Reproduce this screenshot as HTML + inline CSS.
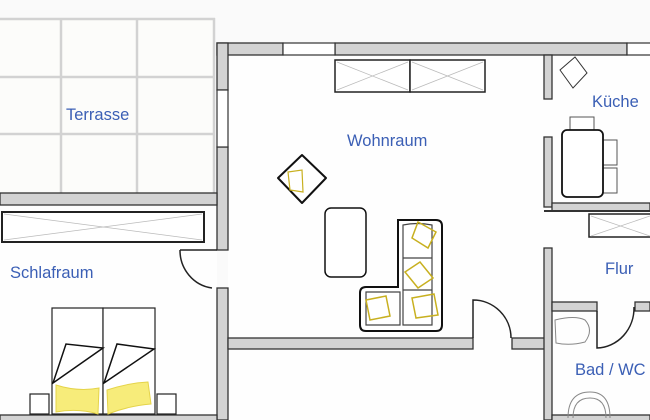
<!DOCTYPE html>
<html><head><meta charset="utf-8"><style>
html,body{margin:0;padding:0;background:#fafafa;}
svg{display:block;}
text{font-family:"Liberation Sans",sans-serif;font-size:16.5px;fill:#3b5fb5;}
</style></head><body>
<svg width="650" height="420" viewBox="0 0 650 420" xmlns="http://www.w3.org/2000/svg">
<rect width="650" height="420" fill="#fafafa"/>
<!-- terrace -->
<rect x="0" y="18" width="215" height="175" fill="#fcfcfa"/>
<g stroke="#d2d2d2" stroke-width="2.5" fill="none">
<line x1="0" y1="19" x2="215" y2="19"/><line x1="0" y1="77" x2="215" y2="77"/><line x1="0" y1="134" x2="215" y2="134"/>
<line x1="61" y1="18" x2="61" y2="193"/><line x1="137" y1="18" x2="137" y2="193"/><line x1="214" y1="18" x2="214" y2="193"/>
</g>
<!-- interior floor -->
<rect x="228" y="55" width="422" height="365" fill="#fefefe"/>
<rect x="0" y="205" width="217" height="210" fill="#fefefe"/>
<!-- walls -->
<g fill="#d3d3d3" stroke="#333" stroke-width="1.3">
<rect x="217" y="43" width="66" height="12"/>
<rect x="335" y="43" width="292" height="12"/>
<rect x="217" y="43" width="11" height="47"/>
<rect x="217" y="147" width="11" height="103"/>
<rect x="217" y="288" width="11" height="132"/>
<rect x="0" y="193" width="217" height="12"/>
<rect x="0" y="415" width="217" height="8"/>
<rect x="228" y="338" width="245" height="11"/>
<rect x="512" y="338" width="33" height="11"/>
<rect x="544" y="55" width="8" height="44"/>
<rect x="544" y="137" width="8" height="70"/>
<rect x="552" y="203" width="98" height="8"/>
<rect x="544" y="248" width="8" height="172"/>
<rect x="552" y="302" width="45" height="9"/>
<rect x="635" y="302" width="15" height="9"/>
<rect x="552" y="415" width="98" height="8"/>
</g>
<!-- windows -->
<g fill="#fff" stroke="#333" stroke-width="1.2">
<rect x="283" y="43" width="52" height="12"/>
<rect x="627" y="43" width="25" height="12"/>
<rect x="217" y="90" width="11" height="57"/>
</g>
<line x1="544" y1="211" x2="650" y2="211" stroke="#333" stroke-width="2"/>
<!-- doors -->
<g fill="none" stroke="#222" stroke-width="1.5">
<path d="M180 250 H217 M180 250 A37 38 0 0 0 212 288"/>
<path d="M473 338 V300 A38 38 0 0 1 511 338"/>
<path d="M597 311 V348 A38 40 0 0 0 634 307"/>
</g>
<!-- sideboard -->
<g stroke="#222" stroke-width="1.5" fill="#fff">
<rect x="335" y="60" width="75" height="32"/><rect x="410" y="60" width="75" height="32"/>
<rect x="2" y="212" width="202" height="30" stroke-width="2"/>
<rect x="589" y="214" width="63" height="23"/>
</g>
<g stroke="#bbb" stroke-width="0.8">
<path d="M337 62 L408 90 M337 90 L408 62 M412 62 L483 90 M412 90 L483 62 M4 214 L202 240 M4 240 L202 214 M591 216 L650 236 M591 236 L650 216"/>
</g>
<!-- coffee table -->
<rect x="325" y="208" width="41" height="69" rx="6" fill="#fff" stroke="#111" stroke-width="1.5"/>
<!-- sofa -->
<path d="M398 220 H436 Q442 220 442 226 V325 Q442 331 436 331 H366 Q360 331 360 325 V293 Q360 287 366 287 H398 Z" fill="#fff" stroke="#111" stroke-width="2"/>
<g fill="none" stroke="#444" stroke-width="1.2">
<path d="M403 225 Q417 222 432 225 V258 H403 Z M403 258 H432 V290 H403 Z M403 290 H432 V325 H403 Z M366 292 H400 V325 H366 Z"/>
</g>
<g fill="none" stroke="#c8b020" stroke-width="1.5">
<path d="M418 222 L436 232 L428 248 L412 238 Z M405 272 L420 262 L433 278 L418 288 Z M412 298 L434 294 L438 315 L416 318 Z M366 300 L386 296 L390 316 L370 320 Z"/>
</g>
<!-- armchair -->
<path d="M278 178 L302 155 L326 178 L302 203 Z" fill="#fff" stroke="#111" stroke-width="2" stroke-linejoin="round"/>
<path d="M288 172 L302 170 L303 192 L290 190 Z" fill="none" stroke="#c8b020" stroke-width="1.2"/>
<!-- kitchen -->
<path d="M560 70 L575 57 L587 73 L573 88 Z" fill="#fff" stroke="#333" stroke-width="1"/>
<rect x="570" y="117" width="24" height="13" fill="#fff" stroke="#555" stroke-width="1"/>
<rect x="603" y="140" width="14" height="25" fill="#fff" stroke="#555" stroke-width="1"/>
<rect x="603" y="168" width="14" height="25" fill="#fff" stroke="#555" stroke-width="1"/>
<rect x="562" y="130" width="41" height="67" rx="5" fill="#fff" stroke="#111" stroke-width="1.8"/>
<!-- beds -->
<g stroke="#222" stroke-width="1.2" fill="#fff">
<rect x="52" y="308" width="51" height="106"/><rect x="103" y="308" width="52" height="106"/>
<rect x="30" y="394" width="19" height="20"/><rect x="157" y="394" width="19" height="20"/>
</g>
<g fill="none" stroke="#111" stroke-width="1.5">
<path d="M53 383 L66 344 L103 348 Z M104 383 L117 344 L154 349 Z"/>
</g>
<g fill="#f7ec7a" stroke="#e5d44a" stroke-width="1">
<path d="M56 385 Q78 392 99 388 L98 414 Q78 408 56 412 Z"/>
<path d="M107 390 Q128 383 148 382 L151 404 Q128 406 108 414 Z"/>
</g>
<!-- bathroom -->
<path d="M555 320 Q575 315 585 320 Q594 330 585 342 Q570 346 556 343 Z" fill="none" stroke="#888" stroke-width="1"/>
<path d="M568 418 Q568 392 590 392 Q610 392 610 418" fill="none" stroke="#888" stroke-width="1"/>
<path d="M573 418 Q573 398 590 398 Q606 398 606 418" fill="none" stroke="#888" stroke-width="1"/>
<!-- labels -->
<text x="66" y="120">Terrasse</text>
<text x="347" y="146">Wohnraum</text>
<text x="592" y="107">Küche</text>
<text x="10" y="278">Schlafraum</text>
<text x="605" y="274">Flur</text>
<text x="575" y="375">Bad / WC</text>
</svg>
</body></html>
